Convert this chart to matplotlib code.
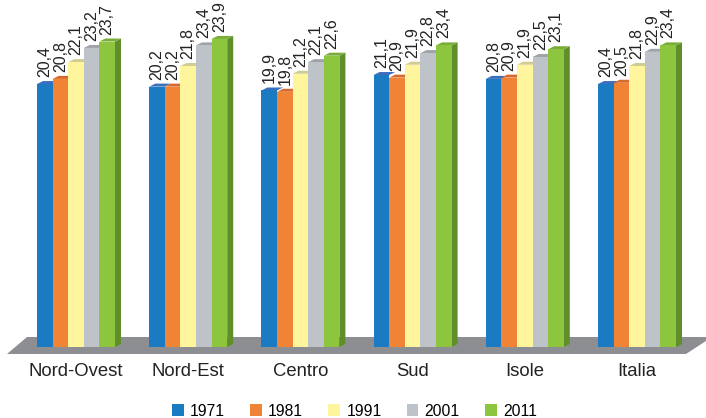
import matplotlib
matplotlib.use("Agg")
import matplotlib.pyplot as plt
from matplotlib.patches import Polygon, Patch
import numpy as np

plt.rcParams['font.family'] = ['Liberation Sans', 'DejaVu Sans']

categories = ["Nord-Ovest", "Nord-Est", "Centro", "Sud", "Isole", "Italia"]
years = ["1971", "1981", "1991", "2001", "2011"]
v1971 = [20.4, 20.2, 19.9, 21.1, 20.8, 20.4]
v1981 = [20.8, 20.2, 19.8, 20.9, 20.9, 20.5]
v1991 = [22.1, 21.8, 21.2, 21.9, 21.9, 21.8]
v2001 = [23.2, 23.4, 22.1, 22.8, 22.5, 22.9]
v2011 = [23.7, 23.9, 22.6, 23.4, 23.1, 23.4]
series = [v1971, v1981, v1991, v2001, v2011]

front = ["#1b7bc2", "#f08434", "#fef59d", "#bec2c9", "#8dc53f"]
top = ["#3b6fbd", "#d8692c", "#cfcd92", "#9fa3a9", "#79ad37"]
side = ["#14609a", "#c0661f", "#cfcd92", "#8e9197", "#5f8f2a"]

W, H = 706, 418
fig = plt.figure(figsize=(W / 100, H / 100), dpi=100)
ax = fig.add_axes([0, 0, 1, 1])
ax.set_axis_off()

gpx = 112.2          # pixels per group
ppu = 12.89          # pixels per value unit
x0px, y0px = 76.0, 347.0
ax.set_xlim(-x0px / gpx, (W - x0px) / gpx)
ax.set_ylim(-(H - y0px) / ppu, y0px / ppu)

# floor (decoration, in axes fraction)
fl = [(7, 354), (686, 354), (712, 337), (27, 337)]
ax.add_patch(Polygon([(x / W, 1 - y / H) for x, y in fl], closed=True,
                     transform=ax.transAxes, facecolor="#8d8e92",
                     edgecolor="none", zorder=1))

bw = 15.6 / gpx
ddx, ddy = 6.0 / gpx, 3.0 / ppu   # 3-D depth offsets
x = np.arange(len(categories))

for j, vals in enumerate(series):
    xs = x + (j - 2) * bw
    ax.bar(xs, vals, width=bw, color=front[j], edgecolor="none", zorder=3 + j * 0.01)
    for xi, v in zip(xs, vals):
        l, r = xi - bw / 2, xi + bw / 2
        ax.add_patch(Polygon([(l, v), (r, v), (r + ddx, v + ddy), (l + ddx, v + ddy)],
                             closed=True, facecolor=top[j], edgecolor="none",
                             zorder=2.9 + j * 0.01))
        if j == len(series) - 1:
            ax.add_patch(Polygon([(r, 0), (r, v), (r + ddx, v + ddy), (r + ddx, ddy)],
                                 closed=True, facecolor=side[j], edgecolor="none",
                                 zorder=2.9))
        ax.annotate(f"{v:.1f}".replace(".", ","), xy=(xi, v), xytext=(0, 7),
                    textcoords="offset pixels", rotation=90, ha="center",
                    va="bottom", fontsize=11.5, color="#222222", zorder=6)

for xi, c in zip(x, categories):
    ax.text(xi, 1 - 372 / H, c, transform=ax.get_xaxis_transform(),
            ha="center", va="center", fontsize=13.3, color="#222222")

handles = [Patch(facecolor=front[j], edgecolor="none", label=years[j]) for j in range(5)]
fig.legend(handles=handles, loc="center", bbox_to_anchor=(0.502, 1 - 411 / H),
           ncol=5, frameon=False, fontsize=11.3, handlelength=0.75, handleheight=0.75,
           handletextpad=0.4, columnspacing=1.6, borderpad=0)

fig.savefig("out.png", dpi=100)
